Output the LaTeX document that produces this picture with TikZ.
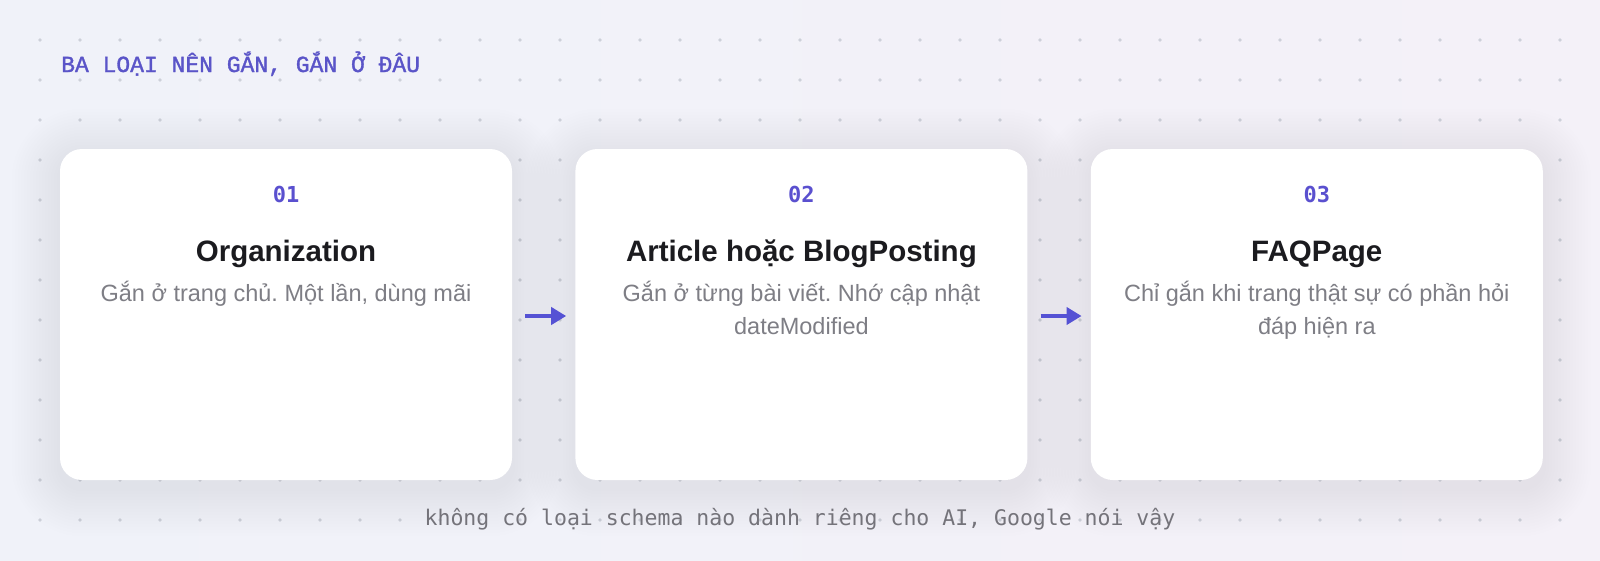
\documentclass[tikz,border=0pt]{standalone}
\usepackage{fontspec}
\setmainfont{Liberation Sans}
\newfontfamily\monofont{DejaVu Sans Mono}
\newfontfamily\headfont[FakeBold=1.4]{Liberation Mono}
\usetikzlibrary{positioning,arrows.meta}
\pgfdeclarelayer{background}
\pgfsetlayers{background,main}
\frenchspacing

\definecolor{bgleft}{HTML}{F0F2F9}
\definecolor{bgmid}{HTML}{ECF0F9}
\definecolor{bgright}{HTML}{F4F1F8}
\definecolor{dotgray}{HTML}{CDD0D9}
\definecolor{shadowtint}{HTML}{3C4060}
\definecolor{inkblue}{HTML}{5A54C8}
\definecolor{numblue}{HTML}{5A50CF}
\definecolor{arrowblue}{HTML}{5552D4}
\definecolor{titleblack}{HTML}{1B1B1F}
\definecolor{descgray}{HTML}{7E7E85}
\definecolor{notegray}{HTML}{74737A}

\tikzset{
	card/.style={rectangle,rounded corners=22pt,fill=white,inner sep=0pt,minimum width=452pt,minimum height=331pt},
	cardnum/.style={anchor=base,text=numblue,font=\monofont\bfseries\fontsize{22}{22}\selectfont},
	cardtitle/.style={anchor=base,text=titleblack,font=\bfseries\fontsize{29.5}{30}\selectfont},
	carddesc/.style={anchor=base,text=descgray,inner sep=0pt,font=\fontsize{23.5}{33}\selectfont},
	headline/.style={anchor=base west,inner sep=0pt,text=inkblue,font=\headfont\fontsize{23}{23}\selectfont},
	remark/.style={anchor=base,inner sep=0pt,text=notegray,font=\monofont\fontsize{21.5}{22}\selectfont},
	flow/.style={draw=arrowblue,line width=4pt,-{Triangle[length=15pt,width=17pt]}}
}

\begin{document}
\begin{tikzpicture}[x=1pt,y=-1pt]
	\useasboundingbox (0,0) rectangle (1600,560);

	% heading and footnote
	\node[headline] (heading) at (61,72) {BA LOẠI NÊN GẮN, GẮN Ở ĐÂU};
	\node[remark] (note) at (800,525) {không có loại schema nào dành riêng cho AI, Google nói vậy};

	% the three cards
	\node[card] (org) at (286,314.5) {};
	\node[card,right=63pt of org] (article) {};
	\node[card,right=63pt of article] (faq) {};

	\node[cardnum] (orgnum) at ([yshift=-54pt]org.north) {01};
	\node[cardtitle] (orgtitle) at ([yshift=-113pt]org.north) {Organization};
	\node[carddesc] (orgdesc) at ([yshift=-153pt]org.north) {\parbox[t]{440pt}{\centering Gắn ở trang chủ. Một lần, dùng mãi}};

	\node[cardnum] (articlenum) at ([yshift=-54pt]article.north) {02};
	\node[cardtitle] (articletitle) at ([yshift=-113pt]article.north) {Article hoặc BlogPosting};
	\node[carddesc] (articledesc) at ([yshift=-153pt]article.north) {\parbox[t]{440pt}{\centering Gắn ở từng bài viết. Nhớ cập nhật\\dateModified}};

	\node[cardnum] (faqnum) at ([yshift=-54pt]faq.north) {03};
	\node[cardtitle] (faqtitle) at ([yshift=-113pt]faq.north) {FAQPage};
	\node[carddesc] (faqdesc) at ([yshift=-153pt]faq.north) {\parbox[t]{440pt}{\centering Chỉ gắn khi trang thật sự có phần hỏi\\đáp hiện ra}};

	% arrows between the cards
	\draw[flow] ([xshift=13pt,yshift=-1.5pt]org.east) -- ([xshift=-9pt,yshift=-1.5pt]article.west);
	\draw[flow] ([xshift=13pt,yshift=-1.5pt]article.east) -- ([xshift=-9pt,yshift=-1.5pt]faq.west);

	% backdrop, dot grid and soft shadows
	\begin{pgfonlayer}{background}
		\shade[left color=bgleft,middle color=bgmid,right color=bgright] (0,0) rectangle (1600,560);
		\foreach \x in {40,80,...,1560}
			\foreach \y in {40,80,...,520}
				\fill[dotgray] (\x,\y) circle[radius=1.8pt];
		\foreach \c in {org,article,faq}
			\foreach \i in {1,...,16} {
				\pgfmathsetmacro\rr{22+3*\i}
				\fill[shadowtint,opacity=0.0035,rounded corners=\rr pt]
					([xshift=-3*\i pt,yshift=-3*\i pt-8pt]\c.south west) rectangle ([xshift=3*\i pt,yshift=3*\i pt-8pt]\c.north east);
			}
	\end{pgfonlayer}
\end{tikzpicture}
\end{document}
